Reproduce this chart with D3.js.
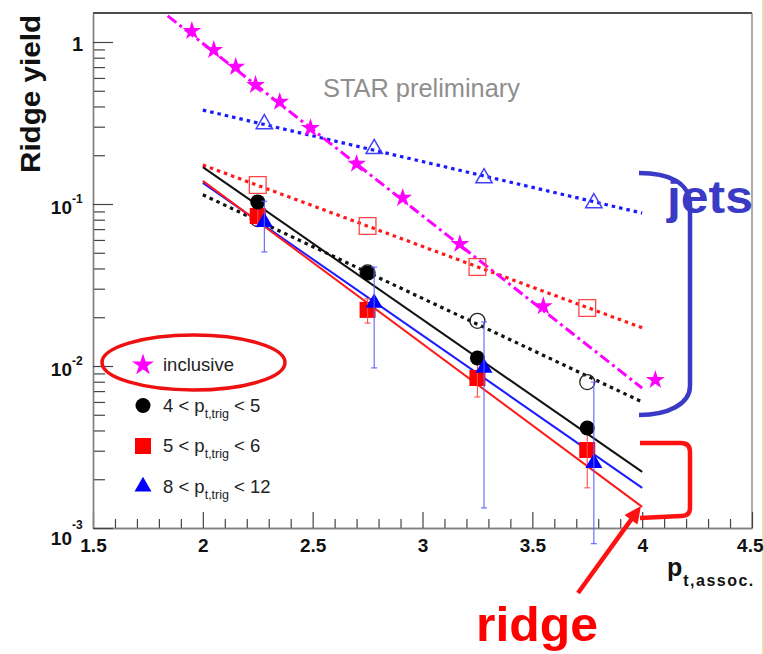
<!DOCTYPE html>
<html>
<head>
<meta charset="utf-8">
<script src="https://cdn.jsdelivr.net/npm/d3@7"></script>
<style>
  body { margin: 0; background: #fff; }
  svg { display: block; font-family: "Liberation Sans", Arial, Helvetica, sans-serif; }
</style>
</head>
<body>
<svg id="chart" width="764" height="654"></svg>
<script>
// ---- data ---------------------------------------------------------------
// inclusive (stars)
const inclusiveX = [1.95, 2.05, 2.15, 2.24, 2.35, 2.49, 2.70, 2.91, 3.17, 3.55, 4.06];
const inclusiveY = [1.17, 0.893, 0.702, 0.543, 0.427, 0.294, 0.177, 0.109, 0.0566, 0.0234, 0.0082];

// associated-pt bin centres
const binX = [2.25, 2.75, 3.25, 3.75];
const binXShifted = [2.28, 2.78, 3.28, 3.78];

// ridge yields (filled markers)
const ridge45 = [0.103, 0.0375, 0.0112, 0.00414];
const ridge56 = [0.0843, 0.0222, 0.00843, 0.00303];
const ridge56Lo = [0.074, 0.0184, 0.00644, 0.00177];
const ridge56Hi = [0.095, 0.026, 0.0104, 0.00432];
const ridge812 = [0.0774, 0.0245, 0.00973, 0.00252];
const ridge812Lo = [0.0506, 0.00973, 0.00133, 0.0008];
const ridge812Hi = [0.104, 0.0408, 0.0187, 0.00796];

// jet yields (open markers)
const jets45 = [0.0807, 0.0378, 0.0190, 0.00796];
const jets56 = [0.131, 0.0731, 0.0408, 0.0228];
const jets812 = [0.312, 0.219, 0.1445, 0.1014];

// exponential fits: yield at the two ends of the fit range
const fitX = [2, 4];
const fitRidge45 = [0.169, 0.00222];
const fitRidge56 = [0.139, 0.00135];
const fitRidge812 = [0.135, 0.00177];
const fitJets45 = [0.114, 0.0060];
const fitJets56 = [0.174, 0.0172];
const fitJets812 = [0.380, 0.0879];
const fitInclusiveX = [1.84, 4.0];
const fitInclusive = [1.45, 0.0073];

// axis ticks
const xMajor = [1.5, 2, 2.5, 3, 3.5, 4, 4.5];
const xMajorLabels = ["1.5", "2", "2.5", "3", "3.5", "4", "4.5"];
const yMajor = [1e-3, 1e-2, 1e-1, 1];
const yMajorBase = ["10", "10", "10", "1"];
const yMajorExp = ["-3", "-2", "-1", ""];

// legend
const legendLabels = ["inclusive", "4 < p|t,trig| < 5", "5 < p|t,trig| < 6", "8 < p|t,trig| < 12"];

// ---- scales & frame -----------------------------------------------------
const svg = d3.select("#chart");
const x = d3.scaleLinear().domain([1.5, 4.5]).range([93, 752]);
const y = d3.scaleLog().domain([1e-3, 1.51]).range([528, 13]);

// thin border on the right edge of the canvas
svg.append("line").attr("x1", 763).attr("x2", 763).attr("y1", 0).attr("y2", 654)
  .attr("stroke", "#e2d3a0").attr("stroke-width", 1.5);

// frame: top and right edges
svg.append("line").attr("x1", x(1.5)).attr("x2", x(4.5)).attr("y1", y(1.51)).attr("y2", y(1.51))
  .attr("stroke", "#111").attr("stroke-width", 1.6);
svg.append("line").attr("x1", x(4.5)).attr("x2", x(4.5)).attr("y1", y(1.51)).attr("y2", y(1e-3))
  .attr("stroke", "#888").attr("stroke-width", 1.4);

// ---- axes ---------------------------------------------------------------
const xMinor = d3.range(16, 45).map(d => d / 10).filter(v => !xMajor.some(m => Math.abs(m - v) < 1e-9));
const gxMinor = svg.append("g").attr("transform", `translate(0,${y(1e-3)})`)
  .call(d3.axisBottom(x).tickValues(xMinor).tickSize(-9).tickSizeOuter(0).tickFormat(""));
const gx = svg.append("g").attr("transform", `translate(0,${y(1e-3)})`)
  .call(d3.axisBottom(x).tickValues(xMajor).tickSize(-16).tickSizeOuter(0)
    .tickFormat((d, i) => xMajorLabels[i]));
gx.selectAll("text").attr("y", 24).attr("dy", 0)
  .attr("font-size", 19).attr("font-weight", "bold").attr("fill", "#111")
  .attr("font-family", "Liberation Sans, Arial, sans-serif");
// the last label sits against the canvas edge
gx.selectAll("text").filter(d => d === 4.5).attr("text-anchor", "end").attr("x", 11);

const yMinor = [];
[-3, -2, -1].forEach(e => { for (let k = 2; k <= 9; k++) yMinor.push(k * Math.pow(10, e)); });
const gyMinor = svg.append("g").attr("transform", `translate(${x(1.5)},0)`)
  .call(d3.axisLeft(y).tickValues(yMinor).tickSize(-12).tickSizeOuter(0).tickFormat(""));
const gy = svg.append("g").attr("transform", `translate(${x(1.5)},0)`)
  .call(d3.axisLeft(y).tickValues(yMajor).tickSize(-20).tickSizeOuter(0).tickFormat(""));

[gxMinor, gx, gyMinor, gy].forEach(g => {
  g.select(".domain").attr("stroke", "#808080").attr("stroke-width", 1.4);
  g.selectAll(".tick line").attr("stroke", "#444").attr("stroke-width", 1.2);
});

// y tick labels with superscript exponents
yMajor.forEach((v, i) => {
  const ty = y(v);
  if (yMajorExp[i] === "") {
    svg.append("text").attr("x", 83).attr("y", ty + 9).attr("text-anchor", "end")
      .attr("font-size", 20).attr("font-weight", "bold").attr("fill", "#111").text(yMajorBase[i]);
  } else {
    const low = v === 1e-3;
    svg.append("text").attr("x", 72).attr("y", ty + (low ? 17 : 10)).attr("text-anchor", "end")
      .attr("font-size", 19).attr("font-weight", "bold").attr("fill", "#111").text(yMajorBase[i]);
    svg.append("text").attr("x", 72).attr("y", ty + (low ? 1 : -1))
      .attr("font-size", 12).attr("font-weight", "bold").attr("fill", "#111").text(yMajorExp[i]);
  }
});

// axis titles
svg.append("text").attr("transform", "translate(40,94) rotate(-90)")
  .attr("text-anchor", "middle").attr("font-size", 27).attr("font-weight", "bold").attr("fill", "#111")
  .attr("textLength", 158).attr("lengthAdjust", "spacingAndGlyphs").text("Ridge yield");
const xt = svg.append("text").attr("x", 667).attr("y", 576).attr("fill", "#111").attr("font-weight", "bold");
xt.append("tspan").attr("font-size", 25).text("p");
xt.append("tspan").attr("font-size", 16).attr("dy", 10).attr("dx", 1)
  .attr("textLength", 70).attr("lengthAdjust", "spacing").text("t,assoc.");

svg.append("text").attr("x", 323).attr("y", 97).attr("font-size", 25).attr("fill", "#8e8e8e")
  .attr("textLength", 197).attr("lengthAdjust", "spacingAndGlyphs").text("STAR preliminary");

// ---- fits ---------------------------------------------------------------
const line = d3.line().x(d => x(d[0])).y(d => y(d[1]));
function drawFit(xs, ys, color, dash, width) {
  svg.append("path").datum(d3.zip(xs, ys)).attr("d", line)
    .attr("fill", "none").attr("stroke", color).attr("stroke-width", width)
    .attr("stroke-dasharray", dash);
}
drawFit(fitX, fitJets812, "#1a1aff", "3.5,4", 3.2);
drawFit(fitX, fitJets56, "#ff1a1a", "3.5,4", 3.2);
drawFit(fitX, fitJets45, "#111", "3.5,4", 3.2);
drawFit(fitInclusiveX, fitInclusive, "#ff00ff", "11,4,3,4", 3);
drawFit(fitX, fitRidge45, "#111", null, 2);
drawFit(fitX, fitRidge812, "#1a1aff", null, 2);
drawFit(fitX, fitRidge56, "#ff1a1a", null, 2);

// ---- markers ------------------------------------------------------------
const symPath = (type, size) => d3.symbol().type(type).size(size)();
function drawMarkers(xs, ys, type, size, fill, stroke, sw) {
  svg.append("g").selectAll("path").data(d3.zip(xs, ys)).join("path")
    .attr("transform", d => `translate(${x(d[0])},${y(d[1])})`)
    .attr("d", symPath(type, size))
    .attr("fill", fill).attr("stroke", stroke).attr("stroke-width", sw);
}
function drawErrors(xs, lo, hi, color) {
  const g = svg.append("g").attr("stroke", color).attr("stroke-width", 1.1);
  xs.forEach((xv, i) => {
    const px = x(xv);
    g.append("line").attr("x1", px).attr("x2", px).attr("y1", y(hi[i])).attr("y2", y(lo[i]));
    g.append("line").attr("x1", px - 3).attr("x2", px + 3).attr("y1", y(hi[i])).attr("y2", y(hi[i]));
    g.append("line").attr("x1", px - 3).attr("x2", px + 3).attr("y1", y(lo[i])).attr("y2", y(lo[i]));
  });
}

// jets: open markers
drawMarkers(binX, jets45, d3.symbolCircle, 177, "none", "#222", 1.3);
drawMarkers(binX, jets56, d3.symbolSquare, 280, "none", "#ff4444", 1.3);
drawMarkers(binXShifted, jets812, d3.symbolTriangle, 115, "none", "#4040ff", 1.5);

// inclusive: stars
drawMarkers(inclusiveX, inclusiveY, d3.symbolStar, 110, "#ff00ff", "none", 0);

// ridge: filled markers
drawMarkers(binX, ridge56, d3.symbolSquare, 256, "#ff0000", "none", 0);
drawErrors(binX, ridge56Lo, ridge56Hi, "#ff4d4d");
drawMarkers(binX, ridge45, d3.symbolCircle, 177, "#000", "none", 0);
drawMarkers(binXShifted, ridge812, d3.symbolTriangle, 125, "#0000ff", "none", 0);
drawErrors(binXShifted, ridge812Lo, ridge812Hi, "#6060ff");

// ---- legend -------------------------------------------------------------
const legendTypes = [d3.symbolStar, d3.symbolCircle, d3.symbolSquare, d3.symbolTriangle];
const legendSizes = [150, 177, 256, 125];
const legendColors = ["#ff00ff", "#000", "#ff0000", "#0000ff"];
legendLabels.forEach((lab, i) => {
  const cy = 365 + i * 40.5;
  svg.append("path").attr("transform", `translate(143,${cy})`)
    .attr("d", symPath(legendTypes[i], legendSizes[i])).attr("fill", legendColors[i]);
  const t = svg.append("text").attr("x", 163).attr("y", cy + 6).attr("font-size", 18.5).attr("fill", "#222");
  const parts = lab.split("|");
  t.append("tspan").text(parts[0]);
  if (parts.length > 1) {
    t.append("tspan").attr("font-size", 12.5).attr("dy", 6).text(parts[1]);
    t.append("tspan").attr("dy", -6).text(parts[2]);
  }
});
svg.append("ellipse").attr("cx", 193.5).attr("cy", 362.5).attr("rx", 91.5).attr("ry", 27.5)
  .attr("fill", "none").attr("stroke", "#ee1111").attr("stroke-width", 3.5);

// ---- annotations --------------------------------------------------------
// jets bracket and label
svg.append("path").attr("d", "M639,173 C668,173 690,182 690,205 L690,386 C690,404 668,415 639,415")
  .attr("fill", "none").attr("stroke", "#3a3ac6").attr("stroke-width", 4.5);
svg.append("text").attr("x", 667).attr("y", 213).attr("font-size", 46).attr("font-weight", "bold")
  .attr("fill", "#3a3ac6").attr("textLength", 86).attr("lengthAdjust", "spacingAndGlyphs").text("jets");

// ridge bracket, arrow and label
svg.append("path").attr("d", "M640,443 L681,443 Q690,443 690,452 L690,508 Q690,516 681,516 L640,518")
  .attr("fill", "none").attr("stroke", "#ff1111").attr("stroke-width", 4.5);
const ax0 = [578, 593], ax1 = [641, 506];
const dx = ax1[0] - ax0[0], dy = ax1[1] - ax0[1], len = Math.hypot(dx, dy);
const ux = dx / len, uy = dy / len;
const hb = [ax1[0] - ux * 17, ax1[1] - uy * 17];
svg.append("line").attr("x1", ax0[0]).attr("y1", ax0[1]).attr("x2", hb[0] + ux * 3).attr("y2", hb[1] + uy * 3)
  .attr("stroke", "#ff1111").attr("stroke-width", 4.5);
svg.append("path")
  .attr("d", `M${ax1[0]},${ax1[1]} L${hb[0] - uy * 8},${hb[1] + ux * 8} L${hb[0] + uy * 8},${hb[1] - ux * 8} Z`)
  .attr("fill", "#ff1111");
svg.append("text").attr("x", 476).attr("y", 641).attr("font-size", 48).attr("font-weight", "bold")
  .attr("fill", "#ff0000").attr("textLength", 122).attr("lengthAdjust", "spacingAndGlyphs").text("ridge");
</script>
</body>
</html>
